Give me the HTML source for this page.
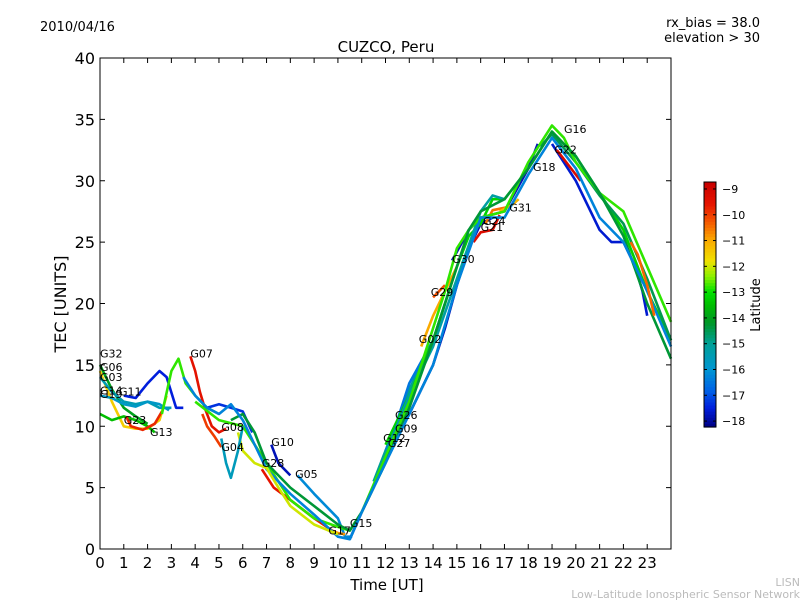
<!DOCTYPE html>
<html><head><meta charset="utf-8"><style>
body{margin:0;background:#fff;width:800px;height:600px;overflow:hidden;font-family:"Liberation Sans","DejaVu Sans",sans-serif}
svg text{font-family:"DejaVu Sans","Liberation Sans",sans-serif}
</style></head><body>
<svg id="c" width="800" height="600" xmlns="http://www.w3.org/2000/svg">
<text x="40" y="31" font-size="13">2010/04/16</text>
<text x="760" y="27" font-size="13" text-anchor="end">rx_bias = 38.0</text>
<text x="760" y="42" font-size="13" text-anchor="end">elevation &gt; 30</text>
<text x="386" y="52" font-size="15" text-anchor="middle">CUZCO, Peru</text>
<text x="387" y="590" font-size="15" text-anchor="middle">Time [UT]</text>
<text transform="translate(66,304) rotate(-90)" font-size="16" text-anchor="middle">TEC [UNITS]</text>
<text x="800" y="586" font-size="11" fill="#bbb" text-anchor="end">LISN</text>
<text x="800" y="598" font-size="11" fill="#bbb" text-anchor="end">Low-Latitude Ionospheric Sensor Network</text>
<g id="plot"></g>
<g id="axes"></g>
<g id="cbar"></g>
</svg>
<script>
const xTicks=[0,1,2,3,4,5,6,7,8,9,10,11,12,13,14,15,16,17,18,19,20,21,22,23];
const yTicks=[0,5,10,15,20,25,30,35,40];
const cbTicks=[-9,-10,-11,-12,-13,-14,-15,-16,-17,-18];
const satNames=["G32","G06","G03","G19","G14","G11","G23","G13","G07","G08","G04","G10","G28","G05","G17","G15","G12","G27","G09","G26","G02","G29","G30","G21","G24","G31","G18","G22","G16","GA","GB","GC","GD","GE","GF"];
const satLat=[-14,-11.5,-15.5,-15.8,-13.5,-17.5,-9.8,-12.8,-9.5,-17.3,-10,-17.8,-9.6,-16.2,-10.8,-17.8,-15,-16.5,-13.2,-15.2,-11,-10.2,-17.8,-9.3,-10.5,-11.2,-17.6,-9.2,-14.5,-12.8,-14.3,-16.3,-12,-10.4,-15.6];
const satPts=[
[[0,15],[0.5,13],[1,11.5],[1.5,10.8],[2,10.2]],
[[0,14.5],[0.5,12],[1,10],[1.5,9.8],[2,9.8],[2.5,10.5],[2.8,12.5]],
[[0,14],[0.5,12.8],[1,12],[1.5,11.8],[2,12],[2.5,11.5],[3,11.5]],
[[0,12.5],[0.5,12.3],[1,11.8],[1.5,11.6],[2,12],[2.5,11.8],[2.9,11.3]],
[[0,11],[0.5,10.5],[1,10.8],[1.5,10.5],[2,10],[2.3,9.5]],
[[1,12.5],[1.5,12.3],[2,13.5],[2.5,14.5],[2.8,14],[3.2,11.5],[3.5,11.5]],
[[1.1,10.8],[1.3,10],[1.8,9.7],[2.3,10.2],[2.6,11.2]],
[[2.6,11],[3,14.5],[3.3,15.5],[3.6,13.5],[4,12.5],[4.5,11.5],[5,11]],
[[3.8,15.7],[4,14.5],[4.2,12.8],[4.4,11.5],[4.7,10],[5,9.5],[5.3,9.8]],
[[4.5,11.5],[5,11.8],[5.5,11.5],[6,11.2],[6.4,9.5]],
[[4.3,11],[4.5,10],[4.8,9.2],[5.1,8.3]],
[[7.2,8.5],[7.5,7],[8,6]],
[[6.8,6.5],[7.3,5],[8,4],[9,2.5],[10,1.2]],
[[8.3,6],[9,4.5],[10,2.5],[10.3,1],[10.6,1]],
[[9.6,1.6],[10,1.3],[10.3,1.2]],
[[10.5,0.8],[11,3],[11.5,5],[12,7.5],[13,11],[14,15],[14.5,18],[15,21.5],[15.5,24.5],[16,26.5],[16.5,27]],
[[11.5,5.5],[12,8],[12.5,10],[13,13],[13.5,15]],
[[12,8],[12.5,10.5],[13,13.5],[14,17],[14.5,20]],
[[12,8.5],[13,12.5],[14,17],[15,23],[15.5,25.5],[16,26.5],[16.5,28.5],[17,28.5],[18,31],[19,34],[20,32],[21,29],[22,26],[23,21],[24,17]],
[[12,7.8],[13,12.5],[14,16.5],[15,22],[16,27.5],[16.5,28.8],[17,28.5]],
[[13.5,16.5],[14,19],[14.5,21],[15,23]],
[[14,20.5],[14.5,21.5]],
[[14.8,23.5],[15.5,26],[16,27],[17,27.5],[18,31],[18.4,33]],
[[15.7,25],[16,25.8],[16.5,26],[16.8,27.2]],
[[16.2,26.5],[16.5,27.6],[17,27.8],[17.3,28]],
[[16.8,27.5],[17.3,28],[17.6,28.5]],
[[19,33],[20,30],[21,26],[21.5,25],[22,25],[22.5,23],[22.8,21],[23,19]],
[[19.2,32.5],[19.8,31],[20.2,30]],
[[18.5,32.8],[19,33.8],[20,31.5],[21,28.8],[22,26.5],[23,22],[24,17]],
[[4,12],[5,10.5],[6,10],[7,7],[8,4],[9,2.5],[10,1.8],[10.5,1.5],[11,3],[12,7.5],[13,12],[14,18],[14.5,21],[15,24.5],[15.5,26],[16,27],[17,27.5],[17.5,29.5],[18,31.5],[19,34.5],[19.5,33.5],[20,31.5],[21,29],[22,27.5],[23,23],[24,18.5]],
[[5.5,10.5],[6,11],[6.5,9.5],[7,7],[8,5],[9,3.5],[10,2],[10.5,1.5],[11,3],[12,7],[13,11.5],[14,17],[15,23],[15.5,26],[16,27.5],[17,28.5],[18,31],[19,34],[20,32],[21,29],[22,25.5],[23,20],[24,15.5]],
[[3.5,14],[4,12.5],[4.5,11.5],[5,11],[5.5,11.8],[6,10.5],[7,6.5],[8,4.5],[9,2.8],[10,1],[10.5,0.8],[11,3],[12,7],[13,11],[14,15],[15,21.5],[16,27],[17,27],[18,30.5],[19,33.5],[20,31],[21,27],[22,25],[23,21],[24,16.5]],
[[5.8,9.5],[6,8],[6.5,7],[7,6.6],[7.5,5],[8,3.5],[9,2],[10,1.2]],
[[22.3,25],[22.6,24],[23,21.5],[23.3,19]],
[[5.1,9],[5.3,7],[5.5,5.8],[5.8,8],[6,10]]
];
const labelIdx=[0,1,2,3,4,5,6,7,8,9,10,11,12,13,14,15,16,17,18,19,20,21,22,23,24,25,26,27,28];
const labelPos=[[0,15.6],[0,14.5],[0,13.7],[0,12.3],[0,12.6],[0.8,12.5],[1,10.2],[2.1,9.2],[3.8,15.6],[5.1,9.6],[5.1,8],[7.2,8.4],[6.8,6.7],[8.2,5.8],[9.6,1.2],[10.5,1.8],[11.9,8.7],[12.1,8.3],[12.4,9.5],[12.4,10.6],[13.4,16.8],[13.9,20.6],[14.8,23.3],[16,25.9],[16.1,26.4],[17.2,27.5],[18.2,30.8],[19.1,32.2],[19.5,33.9]];
const X0=100,X1=671,Y0=58,Y1=549;
const sx=t=>X0+t*(X1-X0)/24, sy=v=>Y1-v*(Y1-Y0)/40;
const LMIN=-18.23,LMAX=-8.73;
const cmapStops=[[-18.23,[0,0,130]],[-17.5,[0,30,220]],[-16.8,[0,100,230]],[-16,[0,150,210]],[-15,[0,160,150]],[-14.2,[0,150,40]],[-13.5,[0,190,0]],[-13,[0,225,0]],[-12.4,[140,240,0]],[-11.8,[240,225,0]],[-11,[250,170,0]],[-10.3,[245,90,0]],[-9.6,[230,20,0]],[-8.73,[200,0,0]]];
function cmap(l){l=Math.max(LMIN,Math.min(LMAX,l));for(let i=0;i<cmapStops.length-1;i++){const a=cmapStops[i],b=cmapStops[i+1];if(l<=b[0]){const f=(l-a[0])/(b[0]-a[0]);const c=a[1].map((v,j)=>Math.round(v+(b[1][j]-v)*f));return `rgb(${c[0]},${c[1]},${c[2]})`;}}return 'rgb(200,0,0)';}
const NS="http://www.w3.org/2000/svg";
function mk(tag,attrs,parent){const e=document.createElementNS(NS,tag);for(const k in attrs)e.setAttribute(k,attrs[k]);parent.appendChild(e);return e;}
const plot=document.getElementById('plot');
satPts.forEach((pts,i)=>{
  const p=mk('polyline',{points:pts.map(q=>sx(q[0]).toFixed(1)+','+sy(q[1]).toFixed(1)).join(' '),fill:'none',stroke:cmap(satLat[i]),'stroke-width':2.6,'stroke-linejoin':'round'},plot);
  
  
});
labelIdx.forEach((si,k)=>{
  const t=mk('text',{x:sx(labelPos[k][0]),y:sy(labelPos[k][1]),'font-size':11},plot);
  t.textContent=satNames[si];
  
  
});
const ax=document.getElementById('axes');
const fr=mk('rect',{x:X0,y:Y0,width:X1-X0,height:Y1-Y0,fill:'none',stroke:'#000','stroke-width':1},ax);


xTicks.forEach(v=>{const x=sx(v);
  mk('line',{x1:x,x2:x,y1:Y1,y2:Y1-5,stroke:'#000'},ax);mk('line',{x1:x,x2:x,y1:Y0,y2:Y0+5,stroke:'#000'},ax);
  const t=mk('text',{x:x,y:568,'font-size':15,'text-anchor':'middle'},ax);t.textContent=v;
  
  });
yTicks.forEach(v=>{const y=sy(v);
  mk('line',{x1:X0,x2:X0+5,y1:y,y2:y,stroke:'#000'},ax);mk('line',{x1:X1,x2:X1-5,y1:y,y2:y,stroke:'#000'},ax);
  const t=mk('text',{x:95,y:y+6,'font-size':16,'text-anchor':'end'},ax);t.textContent=v;
  
  });
const cb=document.getElementById('cbar');
const CX=704,CW=12,CY0=182,CY1=427;
for(let k=0;k<80;k++){const y=CY0+k*(CY1-CY0)/80;mk('rect',{x:CX,y:y,width:CW,height:(CY1-CY0)/80+0.6,fill:cmap(LMAX-(k+0.5)/80*(LMAX-LMIN))},cb);}
mk('rect',{x:CX,y:CY0,width:CW,height:CY1-CY0,fill:'none',stroke:'#000'},cb);
const cy=l=>CY1-(l-LMIN)/(LMAX-LMIN)*(CY1-CY0);
cbTicks.forEach(v=>{const y=cy(v);mk('line',{x1:CX,x2:CX+3,y1:y,y2:y,stroke:'#000'},cb);mk('line',{x1:CX+CW,x2:CX+CW-3,y1:y,y2:y,stroke:'#000'},cb);
  const t=mk('text',{x:722,y:y+4,'font-size':11},cb);t.textContent='\u2212'+Math.abs(v);
  
  });
const cl=mk('text',{transform:'translate(760,305) rotate(-90)','font-size':13,'text-anchor':'middle'},cb);cl.textContent='Latitude';


</script>
</body></html>
